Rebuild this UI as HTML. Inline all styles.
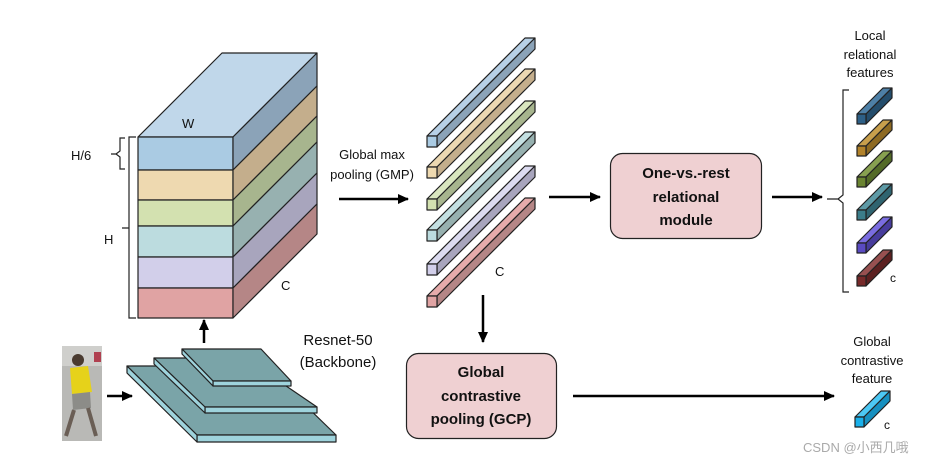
<!DOCTYPE html>
<html><head><meta charset="utf-8"><style>
html,body{margin:0;padding:0;background:#fff;width:952px;height:466px;overflow:hidden}
svg{display:block;font-family:"Liberation Sans","Noto Sans CJK SC",sans-serif}
</style></head><body>
<svg id="s" width="952" height="466" viewBox="0 0 952 466" xmlns="http://www.w3.org/2000/svg">
<defs><marker id="ah" markerWidth="11" markerHeight="10" refX="10" refY="5" orient="auto" markerUnits="userSpaceOnUse" viewBox="0 0 11 10"><path d="M0,0 L11,5 L0,10 z" fill="#000"/></marker></defs>
<g id="g" stroke="#222" stroke-width="1.2" stroke-linejoin="round"></g>
<path d="M136,137 H129 V318 H136 M129,228 H122" fill="none" stroke="#222" stroke-width="1.2"/>
<path d="M125,138 H120 V151 L116,154 L120,157 V169 H125 M116,154 H111" fill="none" stroke="#222" stroke-width="1.2"/>
<text x="71" y="160" font-size="13" fill="#111">H/6</text>
<text x="104" y="244" font-size="13" fill="#111">H</text>
<text x="182" y="128" font-size="13" fill="#111">W</text>
<text x="281" y="290" font-size="13" fill="#111">C</text>
<text x="495" y="276" font-size="13" fill="#111">C</text>
<text x="372" y="159" font-size="13" fill="#111" text-anchor="middle">Global max</text>
<text x="372" y="179" font-size="13" fill="#111" text-anchor="middle">pooling (GMP)</text>
<text x="338" y="345" font-size="15" fill="#111" text-anchor="middle">Resnet-50</text>
<text x="338" y="367" font-size="15" fill="#111" text-anchor="middle">(Backbone)</text>
<rect x="610.5" y="153.5" width="151" height="85" rx="12" fill="#efd0d2" stroke="#222" stroke-width="1.2"/>
<text font-size="15" font-weight="bold" fill="#111" text-anchor="middle"><tspan x="686" y="178">One-vs.-rest</tspan><tspan x="686" y="202">relational</tspan><tspan x="686" y="225">module</tspan></text>
<rect x="406.5" y="353.5" width="150" height="85" rx="12" fill="#efd0d2" stroke="#222" stroke-width="1.2"/>
<text font-size="15" font-weight="bold" fill="#111" text-anchor="middle"><tspan x="481" y="377">Global</tspan><tspan x="481" y="401">contrastive</tspan><tspan x="481" y="424">pooling (GCP)</tspan></text>
<text font-size="13" fill="#111" text-anchor="middle"><tspan x="870" y="40">Local</tspan><tspan x="870" y="59">relational</tspan><tspan x="870" y="77">features</tspan></text>
<text font-size="13" fill="#111" text-anchor="middle"><tspan x="872" y="346">Global</tspan><tspan x="872" y="365">contrastive</tspan><tspan x="872" y="383">feature</tspan></text>
<text x="890" y="282" font-size="12" fill="#111">c</text>
<text x="884" y="429" font-size="12" fill="#111">c</text>
<path d="M849,90 H843 V195 L838,199 L843,203 V292 H849 M838,199 H827" fill="none" stroke="#222" stroke-width="1.2"/>
<g stroke="#000" stroke-width="2.5" fill="none">
<line x1="339" y1="199" x2="408" y2="199" marker-end="url(#ah)"/>
<line x1="549" y1="197" x2="600" y2="197" marker-end="url(#ah)"/>
<line x1="772" y1="197" x2="822" y2="197" marker-end="url(#ah)"/>
<line x1="483" y1="295" x2="483" y2="342" marker-end="url(#ah)"/>
<line x1="573" y1="396" x2="834" y2="396" marker-end="url(#ah)"/>
<line x1="204" y1="343" x2="204" y2="320" marker-end="url(#ah)"/>
<line x1="107" y1="396" x2="132" y2="396" marker-end="url(#ah)"/>
</g>
<rect x="62" y="346" width="40" height="95" fill="#b9b9b6"/>
<rect x="62" y="346" width="40" height="20" fill="#cfcfcc"/>
<rect x="94" y="352" width="7" height="10" fill="#b04050"/>
<circle cx="78" cy="360" r="6" fill="#4a3b30"/>
<path d="M70,368 L88,366 L92,392 L72,394 z" fill="#e6d21a"/>
<path d="M72,394 L90,392 L91,408 L73,410 z" fill="#8c8c88"/>
<path d="M74,410 L66,436 M88,408 L96,436" stroke="#6a5e55" stroke-width="4"/>
<text x="803" y="452" font-size="13" fill="#aaa">CSDN @小西几哦</text>
</svg>
<script>
var g=document.getElementById('g'),NS='http://www.w3.org/2000/svg';
function P(pts,f){var p=document.createElementNS(NS,'polygon');p.setAttribute('points',pts.map(function(a){return a.join(',')}).join(' '));p.setAttribute('fill',f);g.appendChild(p);}
var dx=84,dy=-84,x0=138,x1=233;
var ys=[137,170,200,226,257,288,318];
var front=['#aacbe3','#eed9b0','#d3e1b0','#bcdcdf','#d2cfea','#e0a3a3'];
var side=['#8ba3b8','#c4ae8c','#a7b58e','#97b1b0','#a8a5bd','#b58686'];
P([[x0,137],[x0+dx,137+dy],[x1+dx,137+dy],[x1,137]],'#c0d7ea');
for(var i=0;i<6;i++){P([[x0,ys[i]],[x1,ys[i]],[x1,ys[i+1]],[x0,ys[i+1]]],front[i]);P([[x1,ys[i]],[x1+dx,ys[i]+dy],[x1+dx,ys[i+1]+dy],[x1,ys[i+1]]],side[i]);}
function bar(x,y,w,h,ox,oy,cf,ct,cs){
P([[x,y],[x+ox,y-oy],[x+ox+w,y-oy],[x+w,y]],ct);
P([[x+w,y],[x+ox+w,y-oy],[x+ox+w,y-oy+h],[x+w,y+h]],cs);
P([[x,y],[x+w,y],[x+w,y+h],[x,y+h]],cf);}
var by=[136,167,199,230,264,296];
var bt=['#b7d0e6','#ecd8b2','#d9e6bf','#c4e0e2','#dcdbf0','#e6abab'];
for(i=0;i<6;i++)bar(427,by[i],10,11,98,98,front[i],bt[i],side[i]);
var ly=[114,146,177,210,243,276];
var lf=['#2d5f86','#b2822a','#6a8431','#3b7d8a','#5a4bc2','#772a2a'];
var lt=['#4d7fa6','#c89f4c','#87a050','#5d9aa6','#7a6de0','#975050'];
var ls=['#244d6c','#8e6a22','#536a27','#2f6470','#473c9c','#5c2020'];
for(i=0;i<6;i++)bar(857,ly[i],9,10,26,26,lf[i],lt[i],ls[i]);
bar(855,417,9,10,26,26,'#1ab0ea','#4cc8f4','#1690c0');
function plate(b1,b2,f1,f2,t){
P([b1,b2,f2,f1],'#7aa4a8');
P([f1,f2,[f2[0],f2[1]+t],[f1[0],f1[1]+t]],'#9ed3dc');
P([b1,f1,[f1[0],f1[1]+t],[b1[0],b1[1]+t]],'#9ed3dc');}
plate([127,366],[265,366],[197,435],[336,435],7);
plate([154,358],[245,358],[205,407],[317,407],6);
plate([182,349],[261,349],[213,381],[291,381],5);
</script>
</body></html>
